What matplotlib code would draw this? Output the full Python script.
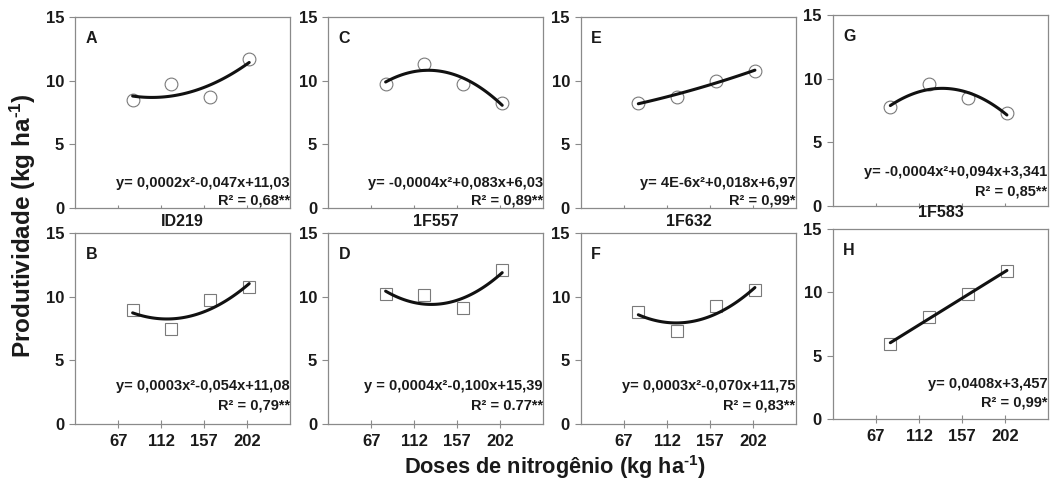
import numpy as np
import matplotlib
matplotlib.use("Agg")
import matplotlib.pyplot as plt

plt.rcParams['font.family'] = ['Liberation Sans', 'DejaVu Sans']
plt.rcParams['font.weight'] = 'bold'
plt.rcParams['mathtext.fontset'] = 'custom'
plt.rcParams['mathtext.rm'] = 'Liberation Sans:bold'
plt.rcParams['mathtext.bf'] = 'Liberation Sans:bold'
plt.rcParams['mathtext.default'] = 'rm'

# ---- data ----
x_pos = [82, 122.5, 163, 204]          # plotted dose positions
tick_vals = [67, 112, 157, 202]
tick_labels = ["67", "112", "157", "202"]
genotypes = ["ID219", "1F557", "1F632", "1F583"]
panel_letters = ["A", "B", "C", "D", "E", "F", "G", "H"]

yA = [8.48, 9.71, 8.74, 11.72]
yB = [9.00, 7.50, 9.79, 10.79]
yC = [9.73, 11.27, 9.73, 8.22]
yD = [10.20, 10.18, 9.16, 12.15]
yE = [8.25, 8.74, 10.00, 10.75]
yF = [8.80, 7.33, 9.27, 10.53]
yG = [7.74, 9.55, 8.50, 7.27]
yH = [5.92, 8.04, 9.85, 11.63]
series = [yA, yB, yC, yD, yE, yF, yG, yH]
fit_degree = [2, 2, 2, 2, 2, 2, 2, 1]

equations = ["y= 0,0002x²-0,047x+11,03", "y= 0,0003x²-0,054x+11,08",
             "y= -0,0004x²+0,083x+6,03", "y = 0,0004x²-0,100x+15,39",
             "y= 4E-6x²+0,018x+6,97", "y= 0,0003x²-0,070x+11,75",
             "y= -0,0004x²+0,094x+3,341", "y= 0,0408x+3,457"]
r2_texts = ["R² = 0,68**", "R² = 0,79**", "R² = 0,89**", "R² = 0.77**",
            "R² = 0,99*", "R² = 0,83**", "R² = 0,85**", "R² = 0,99*"]

# ---- layout (pixels) ----
W, H = 1050, 486
fig = plt.figure(figsize=(W / 100, H / 100), dpi=100)
lefts = [75.3, 328.3, 581, 833]
width = 215
tops = [[16.7, 233.3], [16.7, 233.3], [16.7, 233.3], [15.0, 228.6]]
bottoms = [[208.3, 424.0], [208.3, 424.0], [208.3, 424.0], [205.7, 419.3]]
sub_y = [221.7, 221.7, 221.7, 212.7]
eq_y = [[0.133, 0.197], [0.133, 0.197], [0.133, 0.197], [0.178, 0.185]]
r2_y = [[0.040, 0.097], [0.040, 0.097], [0.040, 0.097], [0.075, 0.087]]

text_color = '#1a1a1a'
spine_color = '#8a8a8a'

for col in range(4):
    for row in range(2):
        idx = col * 2 + row
        l = lefts[col] / W
        b = 1 - bottoms[col][row] / H
        h = (bottoms[col][row] - tops[col][row]) / H
        ax = fig.add_axes([l, b, width / W, h])
        ys = series[idx]
        marker = 'o' if row == 0 else 's'
        ms = 9.2 if row == 0 else 8.0
        ax.plot(x_pos, ys, linestyle='none', marker=marker, ms=ms,
                mfc='white', mec='#7a7a7a', mew=0.8, zorder=2)
        coef = np.polyfit(x_pos, ys, fit_degree[idx])
        xs = np.linspace(x_pos[0], x_pos[-1], 100)
        ax.plot(xs, np.polyval(coef, xs), color='#111111', lw=2.2,
                zorder=3, solid_capstyle='round')
        ax.set_xlim(22, 247)
        ax.set_ylim(0, 15)
        ax.set_yticks([0, 5, 10, 15])
        ax.set_xticks(tick_vals)
        for s in ax.spines.values():
            s.set_color(spine_color)
            s.set_linewidth(0.9)
        ax.tick_params(axis='y', direction='out', length=4, width=0.8,
                       color=spine_color, pad=4, labelsize=12,
                       labelcolor=text_color)
        if row == 0:
            ax.tick_params(axis='x', direction='in', length=2.5, width=0.8,
                           color=spine_color, labelbottom=False)
        else:
            ax.set_xticklabels(tick_labels)
            ax.tick_params(axis='x', direction='inout', length=6, width=0.8,
                           color=spine_color, pad=4, labelsize=12,
                           labelcolor=text_color)
        for lab in ax.get_xticklabels() + ax.get_yticklabels():
            lab.set_fontweight('bold')
        ax.text(0.047, 0.887, panel_letters[idx], transform=ax.transAxes,
                fontsize=11.5, fontweight='bold', color=text_color,
                ha='left', va='center')
        ax.text(0.997, eq_y[col][row], equations[idx], transform=ax.transAxes,
                fontsize=10.5, fontweight='bold', color=text_color,
                ha='right', va='center')
        ax.text(0.997, r2_y[col][row], r2_texts[idx], transform=ax.transAxes,
                fontsize=10.5, fontweight='bold', color=text_color,
                ha='right', va='center')
        if row == 0:
            cx = (lefts[col] + width / 2) / W
            fig.text(cx, 1 - sub_y[col] / H, genotypes[col], fontsize=11.5,
                     fontweight='bold', color=text_color,
                     ha='center', va='center')

fig.text(555 / W, 1 - 466.7 / H, r"Doses de nitrogênio (kg ha$^{\text{-}1}$)",
         fontsize=15.7, fontweight='bold', color=text_color,
         ha='center', va='center')
fig.text(23 / W, 1 - 226 / H, r"Produtividade (kg ha$^{\text{-}1}$)",
         fontsize=17.5, fontweight='bold', color=text_color, rotation=90,
         ha='center', va='center')

fig.savefig("out.png", dpi=100)
